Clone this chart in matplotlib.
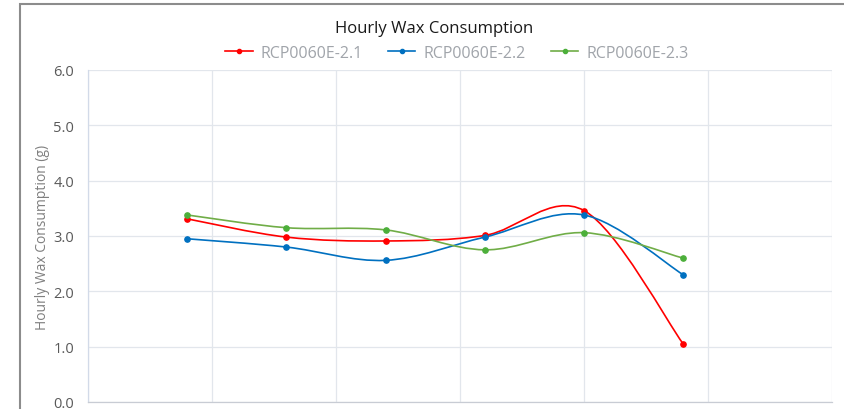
import matplotlib
matplotlib.use("Agg")
import matplotlib.pyplot as plt
from matplotlib.path import Path
from matplotlib.patches import PathPatch, Rectangle
from matplotlib.lines import Line2D
import numpy as np

plt.rcParams['font.family'] = ['Open Sans', 'DejaVu Sans']

# ---- data ----
title = "Hourly Wax Consumption"
y_label = "Hourly Wax Consumption (g)"
hours = [4, 8, 12, 16, 20, 24]
series_names = ["RCP0060E-2.1", "RCP0060E-2.2", "RCP0060E-2.3"]
s21 = [3.31, 2.98, 2.91, 3.01, 3.46, 1.05]
s22 = [2.95, 2.80, 2.56, 2.98, 3.38, 2.30]
s23 = [3.38, 3.15, 3.11, 2.75, 3.06, 2.60]
y_ticks = [0.0, 1.0, 2.0, 3.0, 4.0, 5.0, 6.0]
x_ticks = [0, 5, 10, 15, 20, 25, 30]

line_colors = ["#FF0000", "#0070C0", "#70AD47"]
marker_colors = ["#FF0000", "#0070C0", "#4CAF3A"]


def smooth_path(xs, ys):
    pts = list(zip(xs, ys))
    n = len(pts)
    verts = [pts[0]]
    codes = [Path.MOVETO]
    for i in range(n - 1):
        p0 = pts[i - 1] if i > 0 else pts[i]
        p1 = pts[i]
        p2 = pts[i + 1]
        p3 = pts[i + 2] if i + 2 < n else pts[i + 1]
        c1 = (p1[0] + (p2[0] - p0[0]) / 6.0, p1[1] + (p2[1] - p0[1]) / 6.0)
        c2 = (p2[0] - (p3[0] - p1[0]) / 6.0, p2[1] - (p3[1] - p1[1]) / 6.0)
        verts += [c1, c2, p2]
        codes += [Path.CURVE4] * 3
    return Path(verts, codes)


W, H = 845, 410
fig = plt.figure(figsize=(W / 100, H / 100), dpi=100)
fig.patch.set_facecolor("white")

left, right, top, bottom = 88, 832, 71, 403
ax = fig.add_axes([left / W, 1 - bottom / H, (right - left) / W, (bottom - top) / H])

for name, ys, lc, mc in zip(series_names, [s21, s22, s23], line_colors, marker_colors):
    patch = PathPatch(smooth_path(hours, ys), facecolor="none", edgecolor=lc, lw=1.2, zorder=3)
    ax.add_patch(patch)
    ax.plot(hours, ys, linestyle="none", marker="o", ms=3.8, color=mc, zorder=4)

ax.set_xlim(x_ticks[0], x_ticks[-1])
ax.set_ylim(y_ticks[0], y_ticks[-1])
ax.set_yticks(y_ticks)
ax.set_yticklabels([f"{v:.1f}" for v in y_ticks])
ax.set_xticks(x_ticks)
ax.tick_params(axis="x", length=0, labelbottom=False)
ax.tick_params(axis="y", length=0, pad=10, labelsize=10.5, labelcolor="#595959")
ax.grid(True, color="#E2E6EC", lw=0.9)
ax.set_axisbelow(True)
for s in ["top", "right"]:
    ax.spines[s].set_visible(False)
ax.spines["left"].set_color("#D2DAE8")
ax.spines["left"].set_linewidth(0.9)
ax.spines["bottom"].set_color("#C8CCD4")
ax.spines["bottom"].set_linewidth(0.9)

ax.set_ylabel(y_label, fontsize=10, color="#7F7F7F")
ax.yaxis.set_label_coords(-0.051, 0.5)

fig.text(434 / W, 1 - 29 / H, title, ha="center", va="center", fontsize=12, color="#1A1A1A")

handles = [Line2D([], [], color=lc, lw=1.2, marker="o", ms=3.0, markerfacecolor=mc, markeredgecolor=mc)
           for lc, mc in zip(line_colors, marker_colors)]
leg = fig.legend(handles, series_names, loc="center", bbox_to_anchor=(457 / W, 1 - 54 / H), ncol=3,
                 frameon=False, fontsize=11.5, handlelength=1.7, handletextpad=0.5,
                 columnspacing=1.6, labelcolor="#A0A4AA")

# outer border (top and left edge of the chart frame)
fig.add_artist(Rectangle((20 / W, -0.2), 1.0, 1.2 - 5 / H, transform=fig.transFigure,
                         facecolor="none", edgecolor="#8C8C8C", lw=1.5))

fig.savefig("out.png", dpi=100, facecolor="white")
